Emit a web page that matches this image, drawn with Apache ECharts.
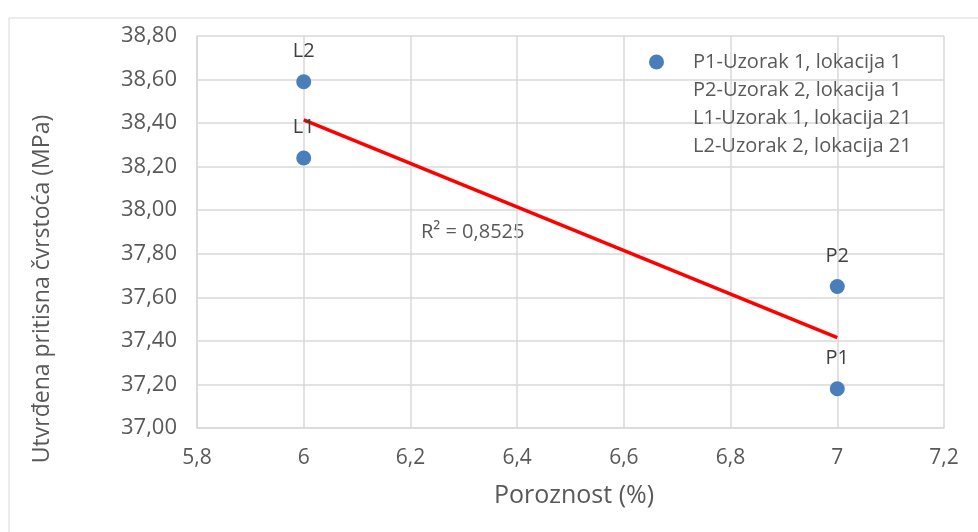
<!DOCTYPE html>
<html>
<head>
<meta charset="utf-8">
<script src="https://cdn.jsdelivr.net/npm/echarts@6/dist/echarts.min.js"></script>
<style>html,body{margin:0;padding:0;background:#fff}#c{width:978px;height:532px}</style>
</head>
<body>
<div id="c"></div>
<script>
var seriesNames = ['P1-Uzorak 1, lokacija 1', 'P2-Uzorak 2, lokacija 1', 'L1-Uzorak 1, lokacija 21', 'L2-Uzorak 2, lokacija 21'];
var pointLabels = ['P1', 'P2', 'L1', 'L2'];
var porosity = [7, 7, 6, 6];
var strength = [37.18, 37.65, 38.24, 38.59];
var trendX = [6, 7];
var trendY = [38.415, 37.415];
var r2Text = 'R² = 0,8525';
var xTitle = 'Poroznost (%)';
var yTitle = 'Utvrđena pritisna čvrstoća (MPa)';

var FONT = '"Open Sans", Lato, sans-serif';
var TXT = '#595959';
var BLUE = '#4a7ebb';
function comma(v, d) { return v.toFixed(d).replace('.', ','); }

var series = seriesNames.map(function (n, i) {
  return {
    name: n, type: 'scatter', symbol: 'circle', symbolSize: 15,
    itemStyle: { color: BLUE, opacity: 1 },
    label: { show: true, position: 'top', distance: 13, formatter: pointLabels[i],
             color: '#404040', fontFamily: FONT, fontSize: 20 },
    data: [[porosity[i], strength[i]]], z: 3
  };
});
series.push({
  name: 'trend', type: 'line', symbol: 'none', silent: true,
  lineStyle: { color: '#ff0000', width: 3.5 },
  data: trendX.map(function (x, i) { return [x, trendY[i]]; }), z: 2
});

var chart = echarts.init(document.getElementById('c'));
chart.setOption({
  animation: false,
  backgroundColor: '#fff',
  grid: { left: 197, right: 34, top: 36, bottom: 104 },
  legend: {
    orient: 'vertical', left: 644, top: 47, itemGap: 8,
    itemWidth: 15, itemHeight: 15,
    data: seriesNames.map(function (n, i) {
      return i === 0 ? { name: n, icon: 'circle', itemStyle: { color: BLUE, opacity: 1 } } : { name: n, icon: 'circle', itemStyle: { color: 'rgba(0,0,0,0)' } };
    }),
    textStyle: { color: TXT, fontFamily: FONT, fontSize: 20, padding: [0, 0, 0, 24] }
  },
  xAxis: {
    type: 'value', min: 5.8, max: 7.2, interval: 0.2,
    axisLine: { show: true, lineStyle: { color: '#d9d9d9', width: 1.5 } },
    axisTick: { show: false },
    splitLine: { show: true, lineStyle: { color: '#d9d9d9', width: 1.5 } },
    axisLabel: { color: TXT, fontFamily: FONT, fontSize: 21, margin: 20,
      formatter: function (v) { return String(Math.round(v * 10) / 10).replace('.', ','); } }
  },
  yAxis: {
    type: 'value', min: 37, max: 38.8, interval: 0.2,
    axisLine: { show: true, lineStyle: { color: '#d9d9d9', width: 1.5 } },
    axisTick: { show: false },
    splitLine: { show: true, lineStyle: { color: '#d9d9d9', width: 1.5 } },
    axisLabel: { color: TXT, fontFamily: FONT, fontSize: 22, margin: 20,
      formatter: function (v) { return comma(v, 2); } }
  },
  graphic: [
    { type: 'rect', shape: { x: 9, y: 18, width: 1000, height: 600 }, style: { fill: 'none', stroke: '#d9d9d9', lineWidth: 1 }, z: -10, silent: true },
    { type: 'text', x: 421, y: 232, style: { text: r2Text, fill: TXT, font: '20px ' + FONT, textVerticalAlign: 'middle' } },
    { type: 'text', x: 574, y: 496, style: { text: xTitle, fill: TXT, font: '25px ' + FONT, textAlign: 'center', textVerticalAlign: 'middle' } },
    { type: 'text', x: 42, y: 289, rotation: Math.PI / 2, style: { text: yTitle, fill: TXT, font: '23px ' + FONT, textAlign: 'center', textVerticalAlign: 'middle' } }
  ],
  series: series
});
</script>
</body>
</html>
